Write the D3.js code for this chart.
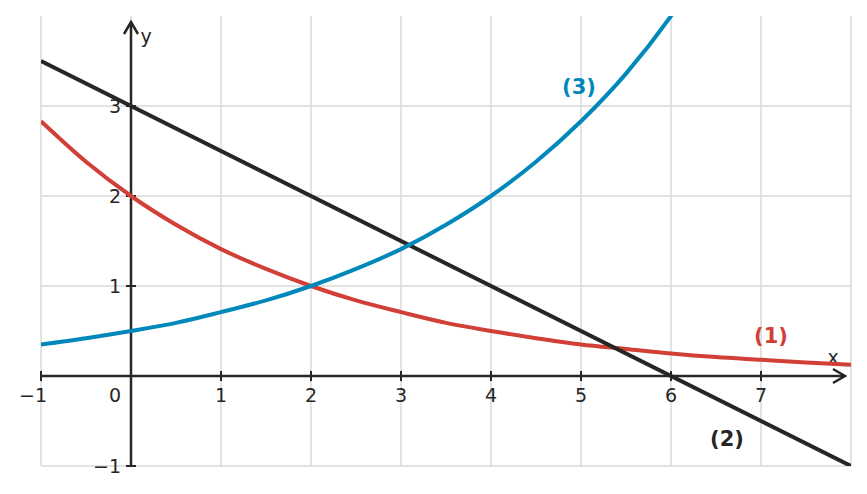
<!DOCTYPE html><html><head><meta charset="utf-8"><script src="https://d3js.org/d3.v7.min.js"></script>
<style>body{margin:0;background:#fff}text{font-family:"DejaVu Sans",sans-serif}</style></head><body><svg width="867" height="494"></svg>
<script>
const xs=[-1,-0.5,0,0.5,1,1.5,2,2.5,3,3.5,4,4.5,5,5.5,6,6.5,7,7.5,8];
const red=[2.83,2.38,2,1.68,1.41,1.19,1,0.84,0.71,0.59,0.5,0.42,0.35,0.30,0.25,0.21,0.18,0.15,0.125];
const blue=[0.35,0.42,0.5,0.59,0.71,0.84,1,1.19,1.41,1.68,2,2.38,2.83,3.36,4,4.76];
const blackX=[-1,8], blackY=[3.5,-1];
const xTicks=[-1,0,1,2,3,4,5,6,7], yTicks=[-1,1,2,3];
const svg=d3.select("svg");
const x=d3.scaleLinear().domain([-1,8]).range([41,851]);
const y=d3.scaleLinear().domain([-1,4]).range([466,16]);
svg.append("defs").append("clipPath").attr("id","c").append("rect").attr("x",41).attr("y",16).attr("width",810).attr("height",450);
const g=svg.append("g");
d3.range(-1,9).forEach(v=>g.append("line").attr("x1",x(v)).attr("x2",x(v)).attr("y1",16).attr("y2",466).attr("stroke","#d9d9d9").attr("stroke-width",1.5));
[-1,1,2,3].forEach(v=>g.append("line").attr("x1",41).attr("x2",851).attr("y1",y(v)).attr("y2",y(v)).attr("stroke","#d9d9d9").attr("stroke-width",1.5));
const ax="#262626";
svg.append("line").attr("x1",41).attr("x2",843).attr("y1",y(0)).attr("y2",y(0)).attr("stroke",ax).attr("stroke-width",2.5);
svg.append("line").attr("x1",x(0)).attr("x2",x(0)).attr("y1",466).attr("y2",24).attr("stroke",ax).attr("stroke-width",2.5);
svg.append("path").attr("d",`M${833},${y(0)-7} L${845},${y(0)} L${833},${y(0)+7}`).attr("fill","none").attr("stroke",ax).attr("stroke-width",2.5);
svg.append("path").attr("d",`M${x(0)-7},${34} L${x(0)},${22} L${x(0)+7},${34}`).attr("fill","none").attr("stroke",ax).attr("stroke-width",2.5);
xTicks.forEach(v=>{ if(v!==0) svg.append("line").attr("x1",x(v)).attr("x2",x(v)).attr("y1",y(0)-5).attr("y2",y(0)+5).attr("stroke",ax).attr("stroke-width",2);
 svg.append("text").attr("x",v===0?x(v)-16:x(v)-(v<0?8:0)).attr("y",y(0)+26).attr("text-anchor","middle").attr("font-size",19).attr("fill",ax).text(v<0?"−"+(-v):v);});
yTicks.forEach(v=>{svg.append("line").attr("x1",x(0)-5).attr("x2",x(0)+5).attr("y1",y(v)).attr("y2",y(v)).attr("stroke",ax).attr("stroke-width",2);
 svg.append("text").attr("x",x(0)-10).attr("y",y(v)+7).attr("text-anchor","end").attr("font-size",19).attr("fill",ax).text(v<0?"−"+(-v):v);});
svg.append("text").attr("x",833).attr("y",364).attr("text-anchor","middle").attr("font-size",19).attr("fill",ax).text("x");
svg.append("text").attr("x",146).attr("y",43).attr("text-anchor","middle").attr("font-size",19).attr("fill",ax).text("y");
const cg=svg.append("g").attr("clip-path","url(#c)");
const line=d3.line().x(d=>x(d[0])).y(d=>y(d[1])).curve(d3.curveMonotoneX);
cg.append("path").attr("d",line(xs.map((v,i)=>[v,red[i]]))).attr("fill","none").attr("stroke","#d13f36").attr("stroke-width",4);
cg.append("path").attr("d",line(blackX.map((v,i)=>[v,blackY[i]]))).attr("fill","none").attr("stroke","#262626").attr("stroke-width",4);
cg.append("path").attr("d",line(blue.map((v,i)=>[xs[i],v]))).attr("fill","none").attr("stroke","#0088bb").attr("stroke-width",4);
[["(1)",771,343,"#d13f36"],["(2)",727,446,"#262626"],["(3)",579,94,"#0088bb"]].forEach(l=>svg.append("text").attr("x",l[1]).attr("y",l[2]).attr("text-anchor","middle").attr("font-size",21).attr("font-weight","bold").attr("fill",l[3]).text(l[0]));
</script></body></html>
